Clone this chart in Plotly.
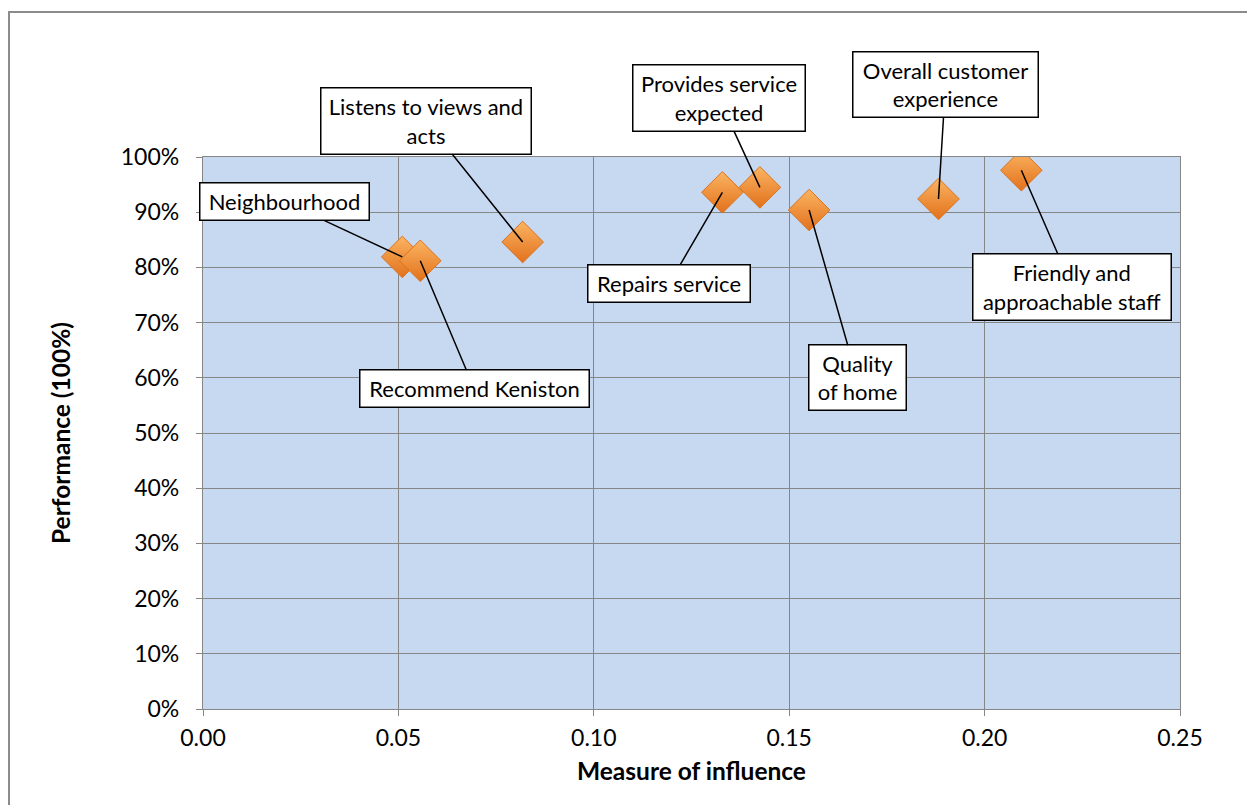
import plotly.graph_objects as go

labels = ["Neighbourhood", "Recommend Keniston", "Listens to views and<br>acts",
          "Repairs service", "Provides service<br>expected", "Quality<br>of home",
          "Overall customer<br>experience", "Friendly and<br>approachable staff"]
influence = [0.0510, 0.0556, 0.0818, 0.1329, 0.1425, 0.1551, 0.1882, 0.2094]
performance = [0.819, 0.812, 0.846, 0.936, 0.945, 0.904, 0.924, 0.976]

# label box offsets (pixels from point) and box sizes
offsets = [(-118, -55), (54, 128), (-97, -121), (-53, 91), (-41, -89), (48, 168), (7, -114), (51, 117)]
boxes = [(168, 36), (228, 36), (209, 65), (161, 36), (171, 65), (96, 64), (184, 64), (197, 65)]

FONT = "Lato"

fig = go.Figure()
fig.add_trace(go.Scatter(
    x=influence, y=performance, mode="markers",
    marker=dict(symbol="diamond", size=32, color="#FBB462",
                gradient=dict(type="vertical", color="#E2711C"),
                line=dict(color="#D9731F", width=1)),
    hoverinfo="skip", showlegend=False))

for lab, xv, yv, (ax, ay), (w, h) in zip(labels, influence, performance, offsets, boxes):
    fig.add_annotation(
        x=xv, y=yv, xref="x", yref="y", text=lab, showarrow=True,
        ax=ax, ay=ay, axref="pixel", ayref="pixel",
        arrowhead=0, arrowwidth=1.5, arrowcolor="black", standoff=0,
        bgcolor="white", bordercolor="black", borderwidth=1.5, borderpad=0,
        width=w, height=h, align="center", valign="middle",
        font=dict(family=FONT, size=22, color="black"))

# outer chart border
fig.add_shape(type="rect", xref="paper", yref="paper",
              x0=(9 - 203) / 977, x1=(1265 - 203) / 977,
              y0=(709 - 815) / 552, y1=(709 - 12) / 552,
              line=dict(color="#8C8C8C", width=2), fillcolor="rgba(0,0,0,0)", layer="below")

fig.update_layout(
    width=1255, height=805,
    margin=dict(l=195, r=83, t=149, b=104),
    paper_bgcolor="white", plot_bgcolor="#C6D9F1",
    font=dict(family=FONT, size=23, color="black"),
    xaxis=dict(range=[0, 0.25], dtick=0.05, tickformat=".2f",
               showgrid=True, gridcolor="#868686", gridwidth=1.3,
               showline=True, linecolor="#868686", linewidth=1.3, mirror=True,
               ticks="outside", ticklen=6, tickcolor="#868686", zeroline=False,
               ticklabelstandoff=2,
               title=dict(text="<b>Measure of influence</b>", standoff=13,
                          font=dict(family=FONT, size=24.5))),
    yaxis=dict(range=[0, 1], dtick=0.1, tickformat=".0%",
               showgrid=True, gridcolor="#868686", gridwidth=1.3,
               showline=True, linecolor="#868686", linewidth=1.3, mirror=True,
               ticks="outside", ticklen=6, tickcolor="#868686", zeroline=False,
               ticklabelstandoff=12,
               title=dict(text="<b>Performance (100%)</b>", standoff=43,
                          font=dict(family=FONT, size=24.5))),
)

fig.write_html("out.html")
